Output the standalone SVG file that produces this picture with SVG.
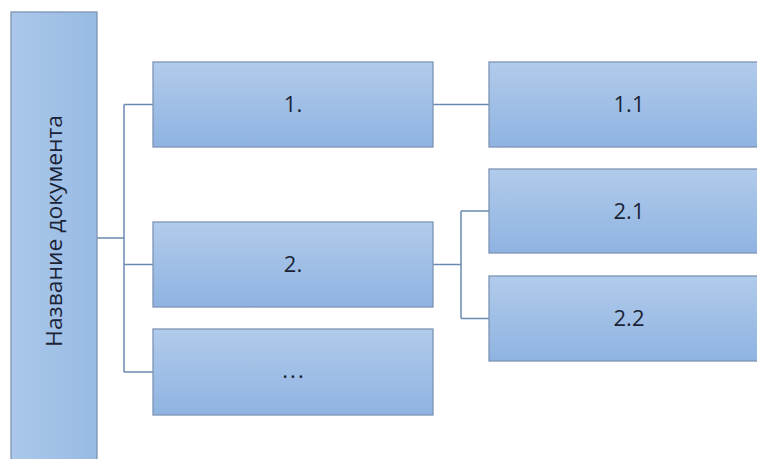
<svg xmlns="http://www.w3.org/2000/svg" width="757" height="459" viewBox="0 0 757 459">
<defs>
<linearGradient id="g" x1="0" y1="0" x2="0" y2="1">
<stop offset="0" stop-color="#b1cbeb"/>
<stop offset="1" stop-color="#8fb3e1"/>
</linearGradient>
<linearGradient id="gt" x1="0" y1="0" x2="1" y2="0">
<stop offset="0" stop-color="#abc8eb"/>
<stop offset="1" stop-color="#98bae3"/>
</linearGradient>
<style>
.box{fill:url(#g);stroke:#7d94b3;stroke-width:1.3}
.tall{fill:url(#gt);stroke:#7d94b3;stroke-width:1.3}
.lbl{font-family:"Open Sans","Liberation Sans",sans-serif;font-size:22px;fill:#1b2436;text-anchor:middle;dominant-baseline:central}
.con{fill:none;stroke:#6b8ab3;stroke-width:1.5}
</style>
</defs>
<rect width="757" height="459" fill="#ffffff"/>
<g id="connectors">
<path class="con" d="M97 238 H124 M124 104.5 V372 M124 104.5 H153 M124 264.5 H153 M124 372 H153"/>
<path class="con" d="M433 104.5 H489"/>
<path class="con" d="M433 264.5 H461 M461 211 V318.5 M461 211 H489 M461 318.5 H489"/>
</g>
<g id="root">
<rect class="tall" x="11" y="12" width="86" height="452"/>
<text class="lbl" transform="translate(53 231) rotate(-90)" font-size="20" textLength="232" lengthAdjust="spacingAndGlyphs">Название документа</text>
</g>
<g id="n1">
<rect class="box" x="153" y="62" width="280" height="85"/>
<text class="lbl" x="293" y="103">1.</text>
</g>
<g id="n2">
<rect class="box" x="153" y="222" width="280" height="85"/>
<text class="lbl" x="293" y="263">2.</text>
</g>
<g id="n3">
<rect class="box" x="153" y="329" width="280" height="86"/>
<text class="lbl" x="294" y="369" letter-spacing="2">...</text>
</g>
<g id="n11">
<rect class="box" x="489" y="62" width="280" height="85"/>
<text class="lbl" x="629" y="103">1.1</text>
</g>
<g id="n21">
<rect class="box" x="489" y="169" width="280" height="84"/>
<text class="lbl" x="629" y="210">2.1</text>
</g>
<g id="n22">
<rect class="box" x="489" y="276" width="280" height="85"/>
<text class="lbl" x="629" y="317">2.2</text>
</g>
</svg>
